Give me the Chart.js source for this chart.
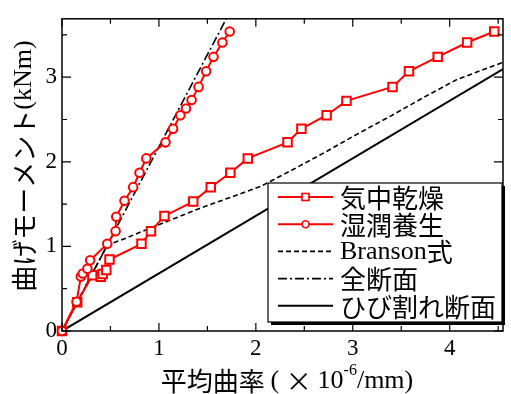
<!DOCTYPE html>
<html>
<head>
<meta charset="utf-8">
<script src="https://cdn.jsdelivr.net/npm/chart.js@4.4.1/dist/chart.umd.min.js"></script>
<style>
  html, body { margin: 0; padding: 0; background: #fff; }
  canvas { display: block; }
</style>
</head>
<body>
<canvas id="chart" width="511" height="394"></canvas>
<script>
// 実測値: 平均曲率 (×10^-6/mm) と 曲げモーメント (kNm)
const dryCurvature = [0, 0.157, 0.314, 0.40, 0.42, 0.457, 0.49, 0.82, 0.918, 1.057, 1.354, 1.535, 1.737, 1.917, 2.327, 2.47, 2.73, 2.935, 3.41, 3.58, 3.876, 4.18, 4.46];
const dryMoment    = [0, 0.34, 0.66, 0.64, 0.675, 0.72, 0.845, 1.03, 1.18, 1.36, 1.53, 1.70, 1.87, 2.04, 2.23, 2.39, 2.55, 2.72, 2.885, 3.07, 3.24, 3.41, 3.54];
const wetCurvature = [0, 0.15, 0.195, 0.215, 0.262, 0.29, 0.467, 0.553, 0.56, 0.645, 0.734, 0.80, 0.87, 1.068, 1.146, 1.221, 1.279, 1.337, 1.409, 1.487, 1.563, 1.655, 1.73];
const wetMoment    = [0, 0.345, 0.645, 0.68, 0.735, 0.835, 1.03, 1.18, 1.35, 1.54, 1.70, 1.87, 2.04, 2.23, 2.39, 2.55, 2.63, 2.73, 2.885, 3.07, 3.24, 3.41, 3.54];

// 計算値
const bransonCurvature = [0, 0.47, 0.60, 0.92, 1.40, 2.05, 2.37, 2.71, 3.05, 3.39, 3.73, 4.07, 4.56];
const bransonMoment    = [0, 1.02, 1.07, 1.22, 1.44, 1.71, 1.90, 2.11, 2.33, 2.54, 2.76, 2.97, 3.18];
const fullCurvature    = [0, 1.75];
const fullMoment       = [0, 3.81];
const crackedCurvature = [0, 4.6];
const crackedMoment    = [0, 3.13];

const xTicks = [0, 1, 2, 3, 4];
const yTicks = [0, 1, 2, 3];
const xMinorTicks = [0.5, 1.5, 2.5, 3.5, 4.5];
const yMinorTicks = [0.5, 1.5, 2.5, 3.5];
const legendLabels = ['気中乾燥', '湿潤養生', 'Branson式', '全断面', 'ひび割れ断面'];
const xTitle = ['平均曲率 ( × 10', '-6', '/mm)'];
const yTitle = '曲げモーメント(kNm)';

const SERIF = '"Liberation Serif"';
const SANS = '"Noto Sans CJK JP"';
const RED = '#ff0000';

const toPoints = (xs, ys) => xs.map((x, i) => ({ x: x, y: ys[i] }));

// ASCII は明朝系、それ以外はゴシックで描く
function splitRuns(text) {
    const runs = [];
    for (const ch of text) {
        const latin = /[\x21-\x7e]/.test(ch) || (ch === ' ' && runs.length && runs[runs.length - 1].latin);
        const last = runs[runs.length - 1];
        if (last && last.latin === latin) last.t += ch;
        else runs.push({ t: ch, latin: latin });
    }
    return runs;
}

function runFont(run, size) {
    return run.latin ? `${size}px ${SERIF}` : `${size}px ${SANS}`;
}

function mixedWidth(ctx, text, size) {
    let w = 0;
    splitRuns(text).forEach(r => {
        ctx.font = runFont(r, size);
        w += ctx.measureText(r.t).width;
    });
    return w;
}

function drawMixed(ctx, text, x, y, size) {
    splitRuns(text).forEach(r => {
        ctx.font = runFont(r, size);
        ctx.fillText(r.t, x, y);
        x += ctx.measureText(r.t).width;
    });
    return x;
}

const legendStyles = [
    { color: RED, width: 2, dash: [], marker: 'rect' },
    { color: RED, width: 2, dash: [], marker: 'circle' },
    { color: '#000', width: 1.6, dash: [5, 3], marker: null },
    { color: '#000', width: 1.6, dash: [9, 3, 2, 3], marker: null },
    { color: '#000', width: 2, dash: [], marker: null }
];

const decorations = {
    id: 'decorations',
    afterDatasetsDraw(chart) {
        const ctx = chart.ctx;
        const area = chart.chartArea;
        const xs = chart.scales.x;
        const ys = chart.scales.y;
        ctx.save();

        // 枠
        ctx.strokeStyle = '#000';
        ctx.lineWidth = 1.5;
        ctx.setLineDash([]);
        ctx.strokeRect(area.left, area.top, area.right - area.left, area.bottom - area.top);

        // 内向きの目盛り (四辺)
        ctx.lineWidth = 1.2;
        ctx.beginPath();
        const xTick = (v, len) => {
            const px = xs.getPixelForValue(v);
            ctx.moveTo(px, area.bottom); ctx.lineTo(px, area.bottom - len);
            ctx.moveTo(px, area.top); ctx.lineTo(px, area.top + len);
        };
        const yTick = (v, len) => {
            const py = ys.getPixelForValue(v);
            ctx.moveTo(area.left, py); ctx.lineTo(area.left + len, py);
            ctx.moveTo(area.right, py); ctx.lineTo(area.right - len, py);
        };
        xTicks.forEach(v => xTick(v, 8));
        xMinorTicks.forEach(v => xTick(v, 5));
        yTicks.forEach(v => yTick(v, 9));
        yMinorTicks.forEach(v => yTick(v, 5));
        ctx.stroke();

        // 凡例
        const bx = 268, by = 183, bw = 234, bh = 139;
        ctx.fillStyle = '#000';
        ctx.fillRect(bx + 3, by + 3, bw, bh);
        ctx.fillStyle = '#fff';
        ctx.fillRect(bx, by, bw, bh);
        ctx.lineWidth = 1.2;
        ctx.strokeStyle = '#000';
        ctx.strokeRect(bx, by, bw, bh);

        ctx.textBaseline = 'middle';
        ctx.textAlign = 'left';
        legendLabels.forEach((label, i) => {
            const st = legendStyles[i];
            const y = 197 + i * 27.2;
            ctx.strokeStyle = st.color;
            ctx.lineWidth = st.width;
            ctx.setLineDash(st.dash);
            ctx.beginPath();
            ctx.moveTo(278, y);
            ctx.lineTo(333, y);
            ctx.stroke();
            ctx.setLineDash([]);
            if (st.marker === 'rect') {
                ctx.fillStyle = '#fff';
                ctx.fillRect(302, y - 3.5, 7, 7);
                ctx.lineWidth = 1.6;
                ctx.strokeRect(302, y - 3.5, 7, 7);
            } else if (st.marker === 'circle') {
                ctx.fillStyle = '#fff';
                ctx.lineWidth = 1.6;
                ctx.beginPath();
                ctx.arc(305.5, y, 3.5, 0, Math.PI * 2);
                ctx.fill();
                ctx.stroke();
            }
            ctx.fillStyle = '#000';
            drawMixed(ctx, label, 340, y + 1, 26);
        });

        // X 軸タイトル (上付き -6 付き)
        const size = 26;
        const w0 = mixedWidth(ctx, xTitle[0], size);
        ctx.font = `16px ${SERIF}`;
        const w1 = ctx.measureText(xTitle[1]).width;
        const w2 = mixedWidth(ctx, xTitle[2], size);
        let tx = 287 - (w0 + w1 + w2) / 2;
        const ty = 381;
        ctx.fillStyle = '#000';
        tx = drawMixed(ctx, xTitle[0], tx, ty, size);
        ctx.font = `16px ${SERIF}`;
        ctx.fillText(xTitle[1], tx, ty - 10);
        tx += w1;
        drawMixed(ctx, xTitle[2], tx, ty, size);

        // Y 軸タイトル
        ctx.translate(24, 166);
        ctx.rotate(-Math.PI / 2);
        const wy = mixedWidth(ctx, yTitle, 26);
        drawMixed(ctx, yTitle, -wy / 2, 0, 26);

        ctx.restore();
    }
};

new Chart(document.getElementById('chart'), {
    type: 'scatter',
    data: {
        datasets: [
            {
                label: legendLabels[0],
                data: toPoints(dryCurvature, dryMoment),
                showLine: true,
                borderColor: RED,
                borderWidth: 2,
                pointStyle: 'rect',
                pointRadius: 6,
                pointBorderWidth: 2,
                pointBackgroundColor: '#fff',
                pointBorderColor: RED,
                clip: false,
                order: 1
            },
            {
                label: legendLabels[1],
                data: toPoints(wetCurvature, wetMoment),
                showLine: true,
                borderColor: RED,
                borderWidth: 2,
                pointStyle: 'circle',
                pointRadius: 4.3,
                pointBorderWidth: 2,
                pointBackgroundColor: '#fff',
                pointBorderColor: RED,
                clip: false,
                order: 0
            },
            {
                label: legendLabels[2],
                data: toPoints(bransonCurvature, bransonMoment),
                showLine: true,
                borderColor: '#000',
                borderWidth: 1.6,
                borderDash: [5, 3],
                pointRadius: 0,
                order: 3
            },
            {
                label: legendLabels[3],
                data: toPoints(fullCurvature, fullMoment),
                showLine: true,
                borderColor: '#000',
                borderWidth: 1.6,
                borderDash: [9, 3, 2, 3],
                pointRadius: 0,
                order: 4
            },
            {
                label: legendLabels[4],
                data: toPoints(crackedCurvature, crackedMoment),
                showLine: true,
                borderColor: '#000',
                borderWidth: 2,
                pointRadius: 0,
                order: 5
            }
        ]
    },
    options: {
        responsive: false,
        animation: false,
        layout: { padding: { top: 10, right: 4, left: 0, bottom: 0 } },
        plugins: {
            legend: { display: false },
            tooltip: { enabled: false }
        },
        scales: {
            x: {
                type: 'linear',
                min: 0,
                max: 4.55,
                afterBuildTicks: s => { s.ticks = xTicks.map(v => ({ value: v })); },
                afterFit: s => { s.height = 63; },
                grid: { display: false, drawTicks: false },
                border: { display: false },
                ticks: {
                    padding: 4,
                    color: '#000',
                    font: { family: 'Liberation Serif', size: 23 }
                }
            },
            y: {
                type: 'linear',
                min: 0,
                max: 3.69,
                afterBuildTicks: s => { s.ticks = yTicks.map(v => ({ value: v })); },
                afterFit: s => { s.width = 62; },
                grid: { display: false, drawTicks: false },
                border: { display: false },
                ticks: {
                    padding: 5,
                    color: '#000',
                    font: { family: 'Liberation Serif', size: 23 }
                }
            }
        }
    },
    plugins: [decorations]
});
</script>
</body>
</html>
